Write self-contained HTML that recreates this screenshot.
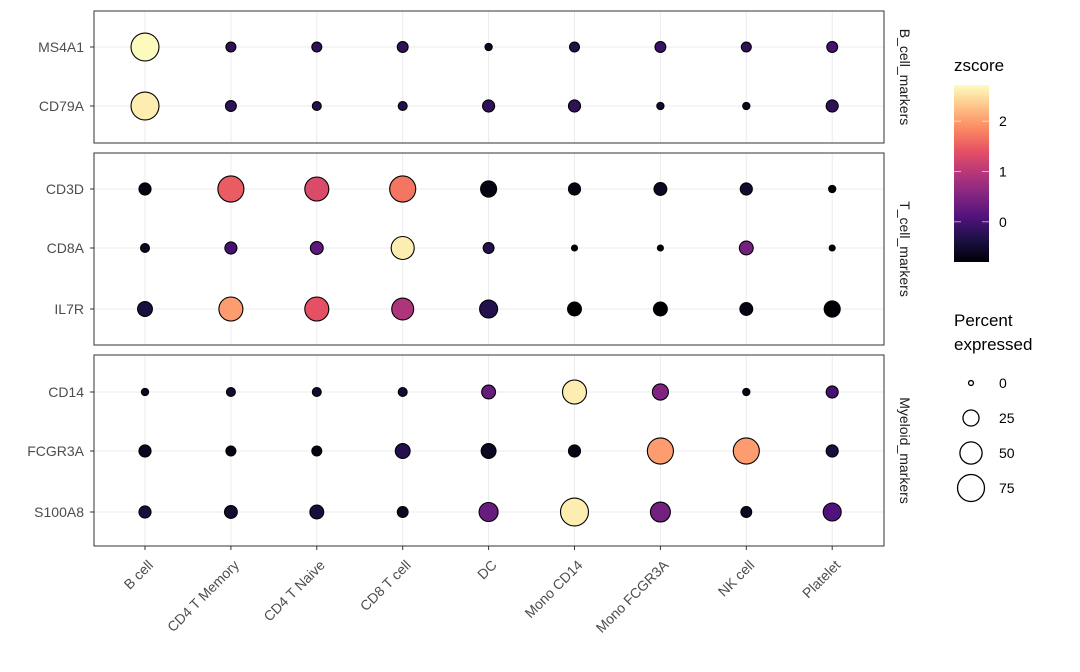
<!DOCTYPE html>
<html><head><meta charset="utf-8"><style>
body{margin:0;background:#fff;font-family:"Liberation Sans",sans-serif}
</style></head><body>
<svg id="chart" width="1080" height="667" xmlns="http://www.w3.org/2000/svg" font-family="Liberation Sans, sans-serif"></svg>
<script>
const cellTypes=["B cell","CD4 T Memory","CD4 T Naive","CD8 T cell","DC","Mono CD14","Mono FCGR3A","NK cell","Platelet"];
const groups=["B_cell_markers","T_cell_markers","Myeloid_markers"];
const genes=[["MS4A1","CD79A"],["CD3D","CD8A","IL7R"],["CD14","FCGR3A","S100A8"]];
const zscore={
MS4A1:[2.7,-0.2,-0.2,-0.2,-0.6,-0.3,-0.1,-0.2,0],
CD79A:[2.6,-0.2,-0.3,-0.3,-0.2,-0.2,-0.5,-0.6,-0.2],
CD3D:[-0.7,1.5,1.3,1.7,-0.7,-0.7,-0.6,-0.5,-0.8],
CD8A:[-0.6,0,0.2,2.6,-0.3,-0.8,-0.8,0.4,-0.8],
IL7R:[-0.4,2.0,1.4,0.9,-0.3,-0.8,-0.8,-0.7,-0.8],
CD14:[-0.6,-0.5,-0.5,-0.5,0.3,2.6,0.5,-0.7,0],
FCGR3A:[-0.6,-0.7,-0.7,-0.3,-0.6,-0.7,2.0,2.0,-0.4],
S100A8:[-0.4,-0.5,-0.4,-0.6,0.3,2.6,0.4,-0.6,0.1]};
const pct={
MS4A1:[81,8,8,10,3,8,10,8,10],
CD79A:[81,10,6,6,13,13,3,3,13],
CD3D:[13,70,59,70,25,13,15,13,3],
CD8A:[6,13,15,54,10,1.3,1.3,18,1.3],
IL7R:[21,59,59,49,32,18,18,15,25],
CD14:[3,6,6,6,18,59,25,3,13],
FCGR3A:[13,8,8,21,21,13,70,70,13],
S100A8:[13,15,18,10,36,81,40,10,32]};
const cbTicks=[0,1,2];
const sizeTicks=[0,25,50,75];

const svg=document.getElementById('chart');const NS="http://www.w3.org/2000/svg";
function el(t,a,p){const e=document.createElementNS(NS,t);for(const k in a)e.setAttribute(k,a[k]);(p||svg).appendChild(e);return e;}
const zmin=-0.8,zmax=2.72;
const stops=["#000004","#1c1044","#4f127b","#812581","#b5367a","#e55064","#fb8761","#fec287","#fcfdbf"];
function hex(h){return[1,3,5].map(i=>parseInt(h.substr(i,2),16));}
function color(z){let t=Math.max(0,Math.min(1,(z-zmin)/(zmax-zmin)))*8;const i=Math.min(7,Math.floor(t)),f=t-i;const a=hex(stops[i]),b=hex(stops[i+1]);return`rgb(${a.map((v,k)=>Math.round(v+(b[k]-v)*f)).join(',')})`;}
function rad(p){return Math.sqrt(6+2.34*p);}
const x=i=>145+i*85.9;
const panels=[{top:11,bot:143,rows:[47,106]},{top:153,bot:345,rows:[189,248,309]},{top:355,bot:546,rows:[392,451,512]}];
panels.forEach((P,g)=>{
  const grp=el('g',{});
  el('rect',{x:94,y:P.top,width:790,height:P.bot-P.top,fill:'#fff'},grp);
  cellTypes.forEach((c,i)=>el('line',{x1:x(i),x2:x(i),y1:P.top,y2:P.bot,stroke:'#ebebeb','stroke-width':1},grp));
  genes[g].forEach((gn,r)=>{
    const y=P.rows[r];
    el('line',{x1:94,x2:884,y1:y,y2:y,stroke:'#ebebeb','stroke-width':1},grp);
    const lb=el('text',{x:84,y:y+5,'text-anchor':'end','font-size':14,fill:'#4d4d4d'},grp);lb.textContent=gn;
    
    el('line',{x1:90,x2:94,y1:y,y2:y,stroke:'#333'},grp);
  });
  genes[g].forEach((gn,r)=>{
    cellTypes.forEach((c,i)=>{
      const d=el('circle',{cx:x(i),cy:P.rows[r],r:rad(pct[gn][i]),fill:color(zscore[gn][i]),stroke:'#000','stroke-width':1.1},grp);
      
    });
  });
  el('rect',{x:94,y:P.top,width:790,height:P.bot-P.top,fill:'none',stroke:'#333','stroke-width':1},grp);
  const cy=(P.top+P.bot)/2;
  const st=el('text',{x:0,y:0,transform:`translate(900,${cy}) rotate(90)`,'text-anchor':'middle','font-size':14,fill:'#1a1a1a'},grp);
  st.textContent=groups[g];
});
cellTypes.forEach((c,i)=>{
  el('line',{x1:x(i),x2:x(i),y1:546,y2:550,stroke:'#333'});
  const t=el('text',{x:0,y:0,transform:`translate(${x(i)+9},${566}) rotate(-45)`,'text-anchor':'end','font-size':14,fill:'#4d4d4d'});
  t.textContent=c;
});
// colorbar
const lg=el('g',{});
const tt=el('text',{x:954,y:71,'font-size':17,fill:'#000'},lg);tt.textContent='zscore';
const defs=el('defs',{});const gr=el('linearGradient',{id:'mg',x1:0,y1:1,x2:0,y2:0},defs);
stops.forEach((s,i)=>el('stop',{offset:i/8,'stop-color':s},gr));
const cbTop=85,cbBot=262;const cy=z=>cbBot-(z-zmin)/(zmax-zmin)*(cbBot-cbTop);
el('rect',{x:954,y:cbTop,width:35,height:cbBot-cbTop,fill:'url(#mg)'},lg);
cbTicks.forEach(v=>{const y=cy(v);
  el('line',{x1:954,x2:961,y1:y,y2:y,stroke:'#fff','stroke-opacity':0.6},lg);
  el('line',{x1:982,x2:989,y1:y,y2:y,stroke:'#fff','stroke-opacity':0.6},lg);
  const t=el('text',{x:999,y:y+5,'font-size':14,fill:'#000'},lg);t.textContent=v;});
// size legend
const sl=el('g',{});
const s1=el('text',{x:954,y:326,'font-size':17,fill:'#000'},sl);s1.textContent='Percent';
const s2=el('text',{x:954,y:350,'font-size':17,fill:'#000'},sl);s2.textContent='expressed';
sizeTicks.forEach((v,i)=>{const y=383+i*35;
  el('circle',{cx:971,cy:y,r:rad(v),fill:'none',stroke:'#000','stroke-width':1.3},sl);
  const t=el('text',{x:999,y:y+5,'font-size':14,fill:'#000'},sl);t.textContent=v;});
</script>
</body></html>
